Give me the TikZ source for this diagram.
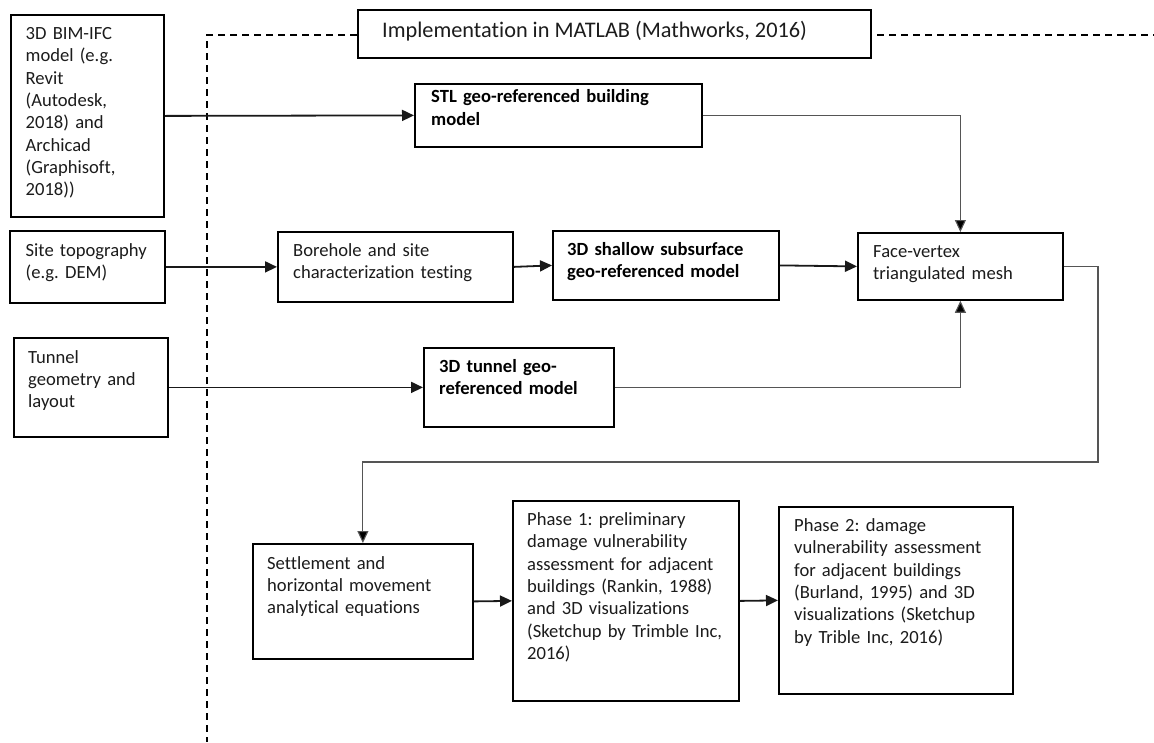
\documentclass[tikz,border=0pt]{standalone}
\usepackage{fontspec}
\setmainfont{Carlito}[Ligatures=NoCommon]
\frenchspacing
\usetikzlibrary{arrows.meta}
\definecolor{txtgray}{HTML}{1C1C1C}
\definecolor{linegray}{HTML}{555555}
\tikzset{
  bx/.style={draw=black, line width=1.8pt, rectangle, inner sep=0pt, anchor=north west},
  tx/.style={inner sep=0pt, anchor=base west, align=left, text=txtgray,
             font=\fontsize{18.6}{22.3}\selectfont\frenchspacing},
  btx/.style={tx, text=black, font=\fontsize{18.6}{22.3}\selectfont\bfseries\frenchspacing},
  thickarrow/.style={line width=1.8pt, draw=black!90, -{Triangle[length=12pt,width=11pt]}},
  thinarrow/.style={line width=1.1pt, draw=linegray, -{Triangle[length=12pt,width=11pt,fill=black]}},
  thinline/.style={line width=1.1pt, draw=linegray},
  dashline/.style={line width=1.5pt, draw=black, dash pattern=on 7pt off 5pt}
}
\begin{document}
\begin{tikzpicture}[x=1pt,y=-1pt]
\useasboundingbox[fill=white] (0,0) rectangle (1154,742);

% title and dashed frame
\node[bx, minimum width=513pt, minimum height=48pt] (title) at (357,9) {};
\node[tx, font=\fontsize{22.3}{26}\selectfont] (titleT) at (382,37.5) {Implementation in MATLAB (Mathworks, 2016)};
\coordinate (dTL) at (207,35);
\coordinate (dBL) at (207,742);
\coordinate (dR1) at (877,35);
\coordinate (dR2) at (1154,35);
\draw[dashline] (title.west |- dTL) -- (dTL) -- (dBL);
\draw[dashline] (dR1) -- (dR2);

% boxes
\node[bx, minimum width=153pt, minimum height=202pt] (bim) at (10,14) {};
\node[bx, minimum width=155pt, minimum height=72pt] (site) at (9,230) {};
\node[bx, minimum width=154pt, minimum height=99pt] (tun) at (13,337) {};
\node[bx, minimum width=235pt, minimum height=70pt] (bore) at (277,231) {};
\node[bx, minimum width=226pt, minimum height=69pt] (shal) at (552,230) {};
\node[bx, minimum width=287pt, minimum height=63pt] (stl) at (414,83) {};
\node[bx, minimum width=190pt, minimum height=79pt] (t3) at (423,347) {};
\node[bx, minimum width=205pt, minimum height=67pt] (face) at (857,232) {};
\node[bx, minimum width=220pt, minimum height=115pt] (settle) at (252,543) {};
\node[bx, minimum width=226pt, minimum height=200pt] (p1) at (512,500) {};
\node[bx, minimum width=234pt, minimum height=187pt] (p2) at (778,506) {};

% texts
\node[tx, text width=140pt] (bimT) at (25.5,39.5) {3D BIM-IFC\\model (e.g.\\Revit\\(Autodesk,\\2018) and\\Archicad\\(Graphisoft,\\2018))};
\node[tx, text width=140pt] (siteT) at (25.5,256.5) {Site topography\\(e.g. DEM)};
\node[tx, text width=140pt] (tunT) at (28,363) {Tunnel\\geometry and\\layout};
\node[tx, text width=220pt] (boreT) at (293,256.5) {Borehole and site\\characterization testing};
\node[btx, text width=220pt] (shalT) at (567,255.5) {3D shallow subsurface\\geo-referenced model};
\node[btx, text width=280pt] (stlT) at (431,102.7) {STL geo-referenced building\\model};
\node[btx, text width=180pt] (t3T) at (439,372.5) {3D tunnel geo-\\referenced model};
\node[tx, text width=200pt] (faceT) at (873,257.5) {Face-vertex\\triangulated mesh};
\node[tx, text width=210pt] (settleT) at (267,569) {Settlement and\\horizontal movement\\analytical equations};
\node[tx, text width=220pt] (p1T) at (527,525.5) {Phase 1: preliminary\\damage vulnerability\\assessment for adjacent\\buildings (Rankin, 1988)\\and 3D visualizations\\(Sketchup by Trimble Inc,\\2016)};
\node[tx, text width=225pt] (p2T) at (794,531.5) {Phase 2: damage\\vulnerability assessment\\for adjacent buildings\\(Burland, 1995) and 3D\\visualizations (Sketchup\\by Trible Inc, 2016)};

% connectors
\draw[thickarrow] (bim.east) -- (stl.west);
\draw[thickarrow] (site.east) -- (bore.west);
\draw[thickarrow] (bore.east) -- (shal.west);
\draw[thickarrow] (shal.east) -- (face.west);
\draw[thickarrow] (tun.east) -- (t3.west);
\draw[thinarrow] (stl.east) -| (face.north);
\draw[thinarrow] (t3.east) -| (face.south);
\coordinate (bend) at (1098,462);
\draw[thinarrow] (face.east) -| (bend) -| (settle.north);
\draw[thickarrow] (settle.east) -- (p1.west);
\draw[thickarrow] (p1.east) -- (p2.west);
\end{tikzpicture}
\end{document}
